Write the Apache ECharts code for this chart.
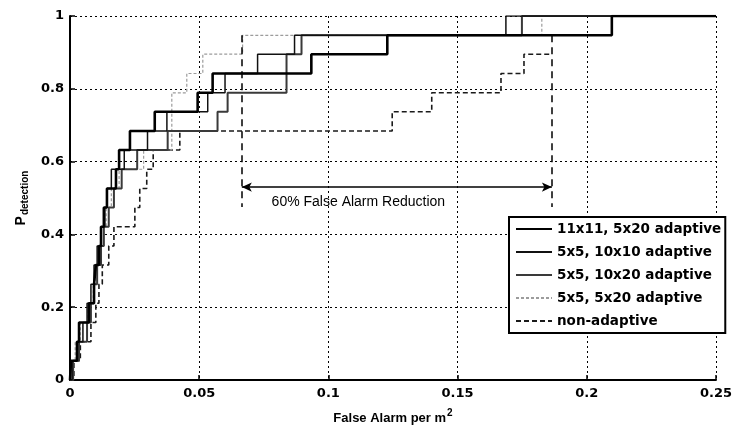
<!DOCTYPE html>
<html>
<head>
<meta charset="utf-8">
<script src="https://cdn.jsdelivr.net/npm/echarts@6/dist/echarts.min.js"></script>
<style>
  html, body { margin: 0; padding: 0; background: #fff; }
  #chart { width: 735px; height: 430px; }
</style>
</head>
<body>
<div id="chart"></div>
<script>
// detection levels (k/19 steps) shared by every curve
const pdLevels = [0, 0.053, 0.105, 0.158, 0.211, 0.263, 0.316, 0.368, 0.421, 0.474,
  0.526, 0.579, 0.632, 0.684, 0.737, 0.789, 0.842, 0.895, 0.947, 1]

// false alarm per m^2 at which each curve reaches pdLevels[i]
const fa11x11_5x20 = [0, 0.0004, 0.0027, 0.0035, 0.0073, 0.0093, 0.0100, 0.0112, 0.0120, 0.0131,
  0.0143, 0.0178, 0.0190, 0.0232, 0.0328, 0.0494, 0.0552, 0.0934, 0.1228, 0.2097]
const fa5x5_10x10 = [0, 0.0008, 0.0027, 0.0050, 0.0066, 0.0081, 0.0093, 0.0105, 0.0120, 0.0135,
  0.0143, 0.0160, 0.0210, 0.0300, 0.0375, 0.0533, 0.0600, 0.0726, 0.0869, 0.1687]
const fa5x5_10x20 = [0, 0.0012, 0.0035, 0.0066, 0.0081, 0.0093, 0.0105, 0.0120, 0.0131, 0.0150,
  0.0170, 0.0200, 0.0260, 0.0378, 0.0571, 0.0610, 0.0838, 0.0838, 0.0896, 0.1749]
const fa5x5_5x20 = [0, 0.0010, 0.0020, 0.0040, 0.0070, 0.0090, 0.0100, 0.0110, 0.0130, 0.0140,
  0.0160, 0.0190, 0.0285, 0.0394, 0.0394, 0.0394, 0.0452, 0.0514, 0.0668, 0.1826]
const faNonAdaptive = [0, 0.0015, 0.0040, 0.0081, 0.0100, 0.0112, 0.0125, 0.0150, 0.0170, 0.0251,
  0.0270, 0.0297, 0.0322, 0.0425, 0.1247, 0.1400, 0.1668, 0.1757]
const nonAdaptiveEnd = 0.1865

const seriesNames = ['11x11, 5x20 adaptive', '5x5, 10x10 adaptive', '5x5, 10x20 adaptive',
  '5x5, 5x20 adaptive', 'non-adaptive']
const xTicks = [0, 0.05, 0.1, 0.15, 0.2, 0.25]
const yTicks = [0, 0.2, 0.4, 0.6, 0.8, 1]

// annotation: 60% false alarm reduction
const reductionLeft = 0.0665
const reductionRight = 0.1865
const reductionPd = 0.53
const reductionTop = 0.947
const reductionBottom = 0.475
const reductionText = '60% False Alarm Reduction'
const reductionTextAt = [0.1116, 0.489]

const faMax = xTicks[xTicks.length - 1]
const boldFont = '"DejaVu Sans", Arial, sans-serif'

function roc(fa, endX) {
  const pts = fa.map((x, i) => [x, pdLevels[i]])
  const last = pts[pts.length - 1]
  pts.push([endX, last[1]])
  return pts
}

const styles = [
  { color: '#000', width: 2.6, type: 'solid' },
  { color: '#111', width: 1.5, type: 'solid' },
  { color: '#3a3a3a', width: 2, type: 'solid' },
  { color: '#9c9c9c', width: 1.2, type: [3, 2] },
  { color: '#1a1a1a', width: 1.6, type: [5, 3] },
]
const curves = [
  roc(fa11x11_5x20, faMax),
  roc(fa5x5_10x10, faMax),
  roc(fa5x5_10x20, faMax),
  roc(fa5x5_5x20, faMax),
  roc(faNonAdaptive, nonAdaptiveEnd),
]

const series = curves.map((data, i) => ({
  name: seriesNames[i],
  type: 'line',
  step: 'end',
  symbol: 'none',
  data,
  z: 5 - i,
  lineStyle: styles[i],
  itemStyle: { color: styles[i].color },
}))

const dash = { type: [7, 5], width: 1.5, color: '#000' }
series[4].markLine = {
  silent: true,
  symbol: ['none', 'none'],
  label: { show: false },
  data: [
    [{ coord: [reductionLeft, reductionTop], lineStyle: dash }, { coord: [reductionLeft, reductionBottom] }],
    [{ coord: [reductionRight, reductionTop], lineStyle: dash }, { coord: [reductionRight, reductionBottom] }],
    [
      { coord: [reductionLeft, reductionPd], symbol: 'arrow', symbolSize: [7, 10],
        lineStyle: { type: 'solid', width: 1.5, color: '#000' } },
      { coord: [reductionRight, reductionPd], symbol: 'arrow', symbolSize: [7, 10] },
    ],
  ],
}
series[4].markPoint = {
  silent: true,
  symbol: 'circle',
  symbolSize: 1,
  itemStyle: { color: 'rgba(0,0,0,0)' },
  data: [{ coord: reductionTextAt }],
  label: {
    show: true,
    position: 'inside',
    formatter: reductionText,
    color: '#000',
    fontFamily: 'Arial, "Liberation Sans", sans-serif',
    fontSize: 14,
  },
}

const chart = echarts.init(document.getElementById('chart'), null, { renderer: 'canvas' })
chart.setOption({
  animation: false,
  backgroundColor: '#fff',
  textStyle: { fontFamily: 'Arial, "Liberation Sans", sans-serif' },
  grid: { left: 70, right: 18, top: 16, bottom: 50 },
  legend: {
    data: seriesNames,
    orient: 'vertical',
    left: 509,
    top: 217,
    itemWidth: 36,
    itemHeight: 14,
    itemGap: 9,
    padding: [5, 4, 5, 6],
    borderColor: '#000',
    borderWidth: 2,
    backgroundColor: '#fff',
    itemStyle: { opacity: 0 },
    textStyle: { fontSize: 13.5, fontWeight: 'bold', color: '#000', fontFamily: boldFont },
  },
  xAxis: {
    type: 'value',
    min: xTicks[0],
    max: faMax,
    interval: 0.05,
    name: 'False Alarm per m{sup|2}',
    nameLocation: 'middle',
    nameGap: 28,
    nameTextStyle: {
      fontSize: 13, fontWeight: 'bold', color: '#000',
      rich: { sup: { fontSize: 10, fontWeight: 'bold', color: '#000', verticalAlign: 'top', padding: [0, 0, 10, 1] } },
    },
    axisLine: { lineStyle: { color: '#000', width: 2 } },
    axisTick: { inside: true, length: 5, lineStyle: { color: '#000', width: 1.5 } },
    axisLabel: { color: '#000', fontSize: 13, fontWeight: 'bold', margin: 7, fontFamily: boldFont },
    splitLine: { show: true, lineStyle: { color: '#000', type: [2, 3], width: 1 } },
  },
  yAxis: {
    type: 'value',
    min: yTicks[0],
    max: yTicks[yTicks.length - 1],
    interval: 0.2,
    name: 'P{sub|detection}',
    nameLocation: 'middle',
    nameRotate: 90,
    nameGap: 34,
    nameTextStyle: {
      fontSize: 14, fontWeight: 'bold', color: '#000',
      rich: { sub: { fontSize: 10, fontWeight: 'bold', color: '#000', verticalAlign: 'bottom', padding: [8, 0, 0, 1] } },
    },
    axisLine: { show: true, lineStyle: { color: '#000', width: 2 } },
    axisTick: { show: true, inside: true, length: 5, lineStyle: { color: '#000', width: 1.5 } },
    axisLabel: { color: '#000', fontSize: 13, fontWeight: 'bold', margin: 6, fontFamily: boldFont },
    splitLine: { show: true, lineStyle: { color: '#000', type: [2, 3], width: 1 } },
  },
  series,
})
</script>
</body>
</html>
